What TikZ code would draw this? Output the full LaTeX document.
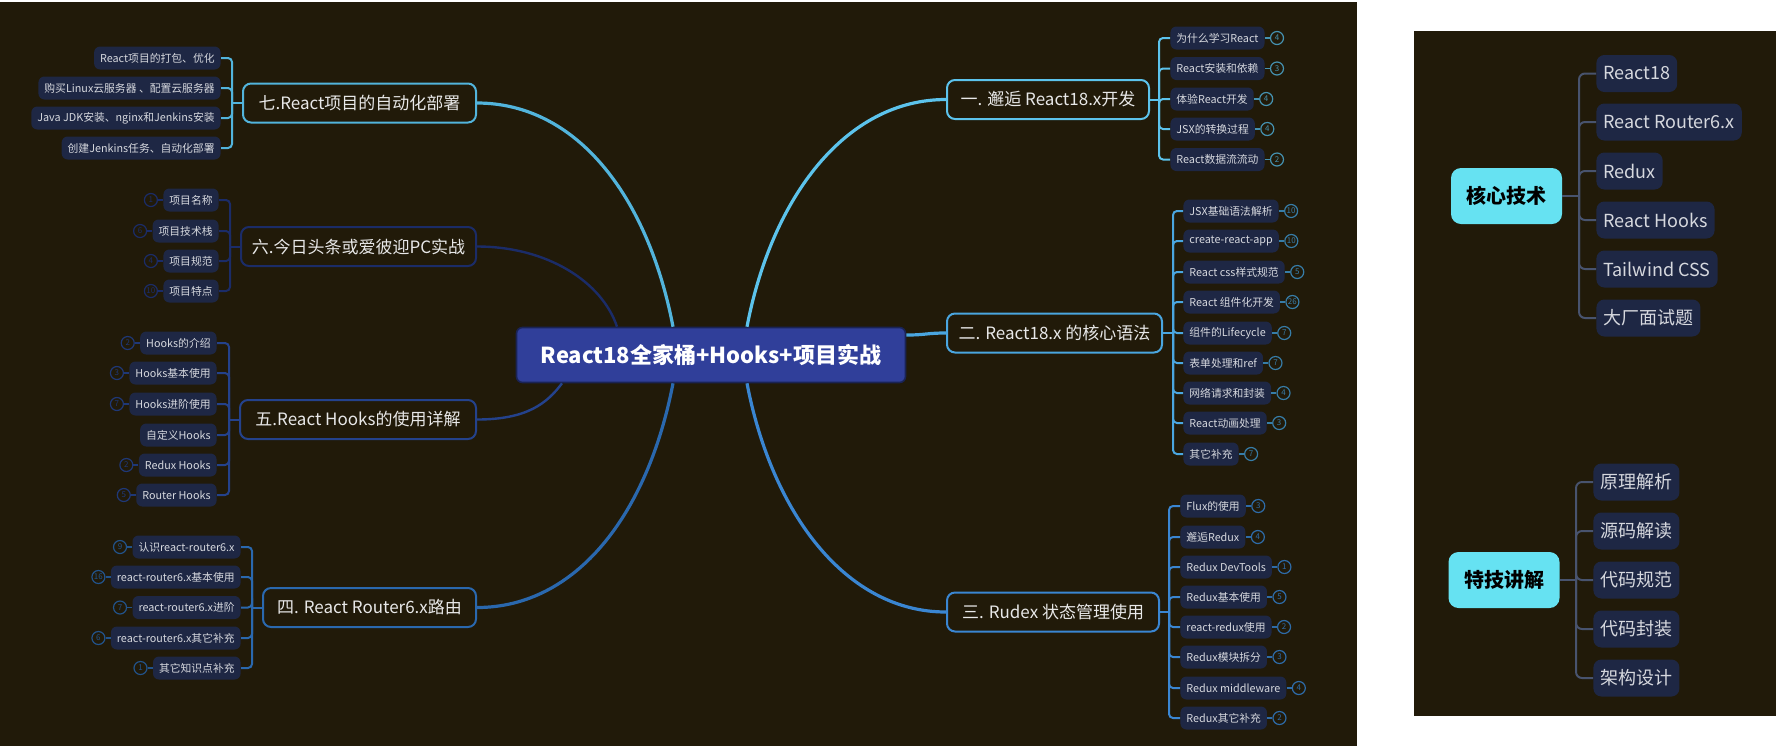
\documentclass[tikz,border=0pt]{standalone}
\usepackage{fontspec}
\setmainfont{Noto Sans CJK SC}
\usepackage{tikz}
\usetikzlibrary{positioning}
\definecolor{MapBg}{HTML}{211A09}
\definecolor{MapRoot}{HTML}{303F9A}
\definecolor{MapLeaf}{HTML}{1E2744}
\definecolor{MapLeafText}{HTML}{D6D8DE}
\definecolor{MapTopicText}{HTML}{E8E8E8}
\definecolor{BrOne}{HTML}{5CC3EC}
\definecolor{BrTwo}{HTML}{4AA6E0}
\definecolor{BrThree}{HTML}{3A86D2}
\definecolor{BrFour}{HTML}{2A68AE}
\definecolor{BrFive}{HTML}{24428C}
\definecolor{BrSix}{HTML}{1B2C68}
\definecolor{BrSeven}{HTML}{52B4DC}
\definecolor{CoreCyan}{HTML}{66E2F2}
\definecolor{SideLine}{HTML}{48536E}
\tikzset{
  rootbox/.style={draw=MapRoot!55!black,line width=0.8pt,fill=MapRoot,rounded corners=3pt,minimum width=194.5pt,minimum height=27.5pt,text=white,font=\fontsize{11}{13}\selectfont\bfseries},
  topicbox/.style={draw=#1,line width=1pt,fill=MapBg,rounded corners=4pt,minimum height=19.5pt,text=MapTopicText,font=\fontsize{8.5}{10}\selectfont},
  leafbox/.style={fill=MapLeaf,rounded corners=3pt,minimum height=11.5pt,inner xsep=3pt,inner ysep=0pt,text=MapLeafText,font=\fontsize{5.4}{6.5}\selectfont},
  countmark/.style={circle,draw=#1,line width=0.6pt,text=#1,inner sep=0pt,minimum size=6.5pt,font=\fontsize{4}{4.5}\selectfont},
  branch/.style={draw=#1,line width=1pt,rounded corners=2pt},
  marklink/.style={draw=#1,line width=0.6pt},
  mainlink/.style={draw=#1,line width=1.6pt},
  corebox/.style={fill=CoreCyan,rounded corners=5pt,minimum width=55.5pt,minimum height=28pt,text=black,font=\fontsize{10}{12}\selectfont\bfseries},
  sidebox/.style={fill=MapLeaf,rounded corners=4pt,minimum height=18.5pt,inner xsep=3.5pt,inner ysep=0pt,text=MapLeafText,font=\fontsize{9}{11}\selectfont},
  sidelink/.style={draw=SideLine,line width=1pt,rounded corners=3pt}
}
\begin{document}
\begin{tikzpicture}[x=0.5pt,y=-0.5pt]
\useasboundingbox (0,0) rectangle (1776,746);
\fill[white] (0,0) rectangle (1776,746);
\fill[MapBg] (0,2) rectangle (1357,746);
\fill[MapBg] (1414,31) rectangle (1776,716);

\node[rootbox] (root) at (711,355) {React18全家桶+Hooks+项目实战};

\node[topicbox=BrOne,minimum width=101pt] (t1) at (1048,99.5) {一. 邂逅 React18.x开发};
\node[topicbox=BrTwo,minimum width=107.5pt] (t2) at (1054.5,333) {二. React18.x 的核心语法};
\node[topicbox=BrThree,minimum width=106pt] (t3) at (1053,612) {三. Rudex 状态管理使用};
\node[topicbox=BrFour,minimum width=106.5pt] (t4) at (369.5,607.5) {四. React Router6.x路由};
\node[topicbox=BrFive,minimum width=118pt] (t5) at (358,419.5) {五.React Hooks的使用详解};
\node[topicbox=BrSix,minimum width=117.5pt] (t6) at (358.5,246.5) {六.今日头条或爱彼迎PC实战};
\node[topicbox=BrSeven,minimum width=116.5pt] (t7) at (359.5,103) {七.React项目的自动化部署};

\draw[mainlink=BrOne] (t1.west) .. controls +(-100,0) and +(25,-130) .. ([xshift=18pt]root.north);
\draw[mainlink=BrTwo] ([yshift=10pt]root.east) .. controls +(20,0) and +(-20,0) .. (t2.west);
\draw[mainlink=BrThree] (t3.west) .. controls +(-100,0) and +(25,130) .. ([xshift=18pt]root.south);
\draw[mainlink=BrFour] (t4.east) .. controls +(100,0) and +(-25,130) .. ([xshift=-19pt]root.south);
\draw[mainlink=BrFive,line width=1.2pt] (t5.east) .. controls +(50,0) and +(-15,20) .. ([xshift=-74.5pt]root.south);
\draw[mainlink=BrSix,line width=1.2pt] (t6.east) .. controls +(70,0) and +(-15,-45) .. ([xshift=-47pt]root.north);
\draw[mainlink=BrSeven] (t7.east) .. controls +(100,0) and +(-25,-130) .. ([xshift=-19pt]root.north);

\node[leafbox,anchor=west] (a1) at (1170,38) {为什么学习React};
\node[leafbox,anchor=west] (a2) at (1170,68.5) {React安装和依赖};
\node[leafbox,anchor=west] (a3) at (1170,99) {体验React开发};
\node[leafbox,anchor=west] (a4) at (1170,129) {JSX的转换过程};
\node[leafbox,anchor=west] (a5) at (1170,159.5) {React数据流流动};
\node[countmark=BrOne!75!black,right=2.5pt of a1] (a1n) {4};
\node[countmark=BrOne!75!black,right=2.5pt of a2] (a2n) {3};
\node[countmark=BrOne!75!black,right=2.5pt of a3] (a3n) {4};
\node[countmark=BrOne!75!black,right=2.5pt of a4] (a4n) {4};
\node[countmark=BrOne!75!black,right=2.5pt of a5] (a5n) {2};
\coordinate (s1) at (1159,99.5);
\draw[branch=BrOne] (t1.east) -- (s1);
\draw[branch=BrOne] (s1) |- (a1.west);
\draw[branch=BrOne] (s1) |- (a2.west);
\draw[branch=BrOne] (s1) |- (a3.west);
\draw[branch=BrOne] (s1) |- (a4.west);
\draw[branch=BrOne] (s1) |- (a5.west);
\draw[marklink=BrOne!75!black] (a1) -- (a1n);
\draw[marklink=BrOne!75!black] (a2) -- (a2n);
\draw[marklink=BrOne!75!black] (a3) -- (a3n);
\draw[marklink=BrOne!75!black] (a4) -- (a4n);
\draw[marklink=BrOne!75!black] (a5) -- (a5n);

\node[leafbox,anchor=west] (b1) at (1183,211) {JSX基础语法解析};
\node[leafbox,anchor=west] (b2) at (1183,241) {create-react-app};
\node[leafbox,anchor=west] (b3) at (1183,272) {React css样式规范};
\node[leafbox,anchor=west] (b4) at (1183,302) {React 组件化开发};
\node[leafbox,anchor=west] (b5) at (1183,333) {组件的Lifecycle};
\node[leafbox,anchor=west] (b6) at (1183,363) {表单处理和ref};
\node[leafbox,anchor=west] (b7) at (1183,393) {网络请求和封装};
\node[leafbox,anchor=west] (b8) at (1183,423) {React动画处理};
\node[leafbox,anchor=west] (b9) at (1183,454) {其它补充};
\node[countmark=BrTwo!75!black,right=2.5pt of b1] (b1n) {10};
\node[countmark=BrTwo!75!black,right=2.5pt of b2] (b2n) {10};
\node[countmark=BrTwo!75!black,right=2.5pt of b3] (b3n) {5};
\node[countmark=BrTwo!75!black,right=2.5pt of b4] (b4n) {26};
\node[countmark=BrTwo!75!black,right=2.5pt of b5] (b5n) {7};
\node[countmark=BrTwo!75!black,right=2.5pt of b6] (b6n) {7};
\node[countmark=BrTwo!75!black,right=2.5pt of b7] (b7n) {4};
\node[countmark=BrTwo!75!black,right=2.5pt of b8] (b8n) {3};
\node[countmark=BrTwo!75!black,right=2.5pt of b9] (b9n) {7};
\coordinate (s2) at (1173,333);
\draw[branch=BrTwo] (t2.east) -- (s2);
\draw[branch=BrTwo] (s2) |- (b1.west);
\draw[branch=BrTwo] (s2) |- (b2.west);
\draw[branch=BrTwo] (s2) |- (b3.west);
\draw[branch=BrTwo] (s2) |- (b4.west);
\draw[branch=BrTwo] (s2) |- (b5.west);
\draw[branch=BrTwo] (s2) |- (b6.west);
\draw[branch=BrTwo] (s2) |- (b7.west);
\draw[branch=BrTwo] (s2) |- (b8.west);
\draw[branch=BrTwo] (s2) |- (b9.west);
\draw[marklink=BrTwo!75!black] (b1) -- (b1n);
\draw[marklink=BrTwo!75!black] (b2) -- (b2n);
\draw[marklink=BrTwo!75!black] (b3) -- (b3n);
\draw[marklink=BrTwo!75!black] (b4) -- (b4n);
\draw[marklink=BrTwo!75!black] (b5) -- (b5n);
\draw[marklink=BrTwo!75!black] (b6) -- (b6n);
\draw[marklink=BrTwo!75!black] (b7) -- (b7n);
\draw[marklink=BrTwo!75!black] (b8) -- (b8n);
\draw[marklink=BrTwo!75!black] (b9) -- (b9n);

\node[leafbox,anchor=west] (c1) at (1180,506) {Flux的使用};
\node[leafbox,anchor=west] (c2) at (1180,537) {邂逅Redux};
\node[leafbox,anchor=west] (c3) at (1180,567) {Redux DevTools};
\node[leafbox,anchor=west] (c4) at (1180,597) {Redux基本使用};
\node[leafbox,anchor=west] (c5) at (1180,627) {react-redux使用};
\node[leafbox,anchor=west] (c6) at (1180,657) {Redux模块拆分};
\node[leafbox,anchor=west] (c7) at (1180,688) {Redux middleware};
\node[leafbox,anchor=west] (c8) at (1180,718) {Redux其它补充};
\node[countmark=BrThree!80!black,right=2.5pt of c1] (c1n) {3};
\node[countmark=BrThree!80!black,right=2.5pt of c2] (c2n) {4};
\node[countmark=BrThree!80!black,right=2.5pt of c3] (c3n) {1};
\node[countmark=BrThree!80!black,right=2.5pt of c4] (c4n) {5};
\node[countmark=BrThree!80!black,right=2.5pt of c5] (c5n) {2};
\node[countmark=BrThree!80!black,right=2.5pt of c6] (c6n) {3};
\node[countmark=BrThree!80!black,right=2.5pt of c7] (c7n) {4};
\node[countmark=BrThree!80!black,right=2.5pt of c8] (c8n) {2};
\coordinate (s3) at (1169,612);
\draw[branch=BrThree] (t3.east) -- (s3);
\draw[branch=BrThree] (s3) |- (c1.west);
\draw[branch=BrThree] (s3) |- (c2.west);
\draw[branch=BrThree] (s3) |- (c3.west);
\draw[branch=BrThree] (s3) |- (c4.west);
\draw[branch=BrThree] (s3) |- (c5.west);
\draw[branch=BrThree] (s3) |- (c6.west);
\draw[branch=BrThree] (s3) |- (c7.west);
\draw[branch=BrThree] (s3) |- (c8.west);
\draw[marklink=BrThree!80!black] (c1) -- (c1n);
\draw[marklink=BrThree!80!black] (c2) -- (c2n);
\draw[marklink=BrThree!80!black] (c3) -- (c3n);
\draw[marklink=BrThree!80!black] (c4) -- (c4n);
\draw[marklink=BrThree!80!black] (c5) -- (c5n);
\draw[marklink=BrThree!80!black] (c6) -- (c6n);
\draw[marklink=BrThree!80!black] (c7) -- (c7n);
\draw[marklink=BrThree!80!black] (c8) -- (c8n);

\node[leafbox,anchor=east] (d1) at (241,547) {认识react-router6.x};
\node[leafbox,anchor=east] (d2) at (241,577) {react-router6.x基本使用};
\node[leafbox,anchor=east] (d3) at (241,607.5) {react-router6.x进阶};
\node[leafbox,anchor=east] (d4) at (241,638) {react-router6.x其它补充};
\node[leafbox,anchor=east] (d5) at (241,668) {其它知识点补充};
\node[countmark=BrFour!80!black,left=2.5pt of d1] (d1n) {9};
\node[countmark=BrFour!80!black,left=2.5pt of d2] (d2n) {16};
\node[countmark=BrFour!80!black,left=2.5pt of d3] (d3n) {7};
\node[countmark=BrFour!80!black,left=2.5pt of d4] (d4n) {6};
\node[countmark=BrFour!80!black,left=2.5pt of d5] (d5n) {1};
\coordinate (s4) at (252,607.5);
\draw[branch=BrFour] (t4.west) -- (s4);
\draw[branch=BrFour] (s4) |- (d1.east);
\draw[branch=BrFour] (s4) |- (d2.east);
\draw[branch=BrFour] (s4) |- (d3.east);
\draw[branch=BrFour] (s4) |- (d4.east);
\draw[branch=BrFour] (s4) |- (d5.east);
\draw[marklink=BrFour!80!black] (d1) -- (d1n);
\draw[marklink=BrFour!80!black] (d2) -- (d2n);
\draw[marklink=BrFour!80!black] (d3) -- (d3n);
\draw[marklink=BrFour!80!black] (d4) -- (d4n);
\draw[marklink=BrFour!80!black] (d5) -- (d5n);

\node[leafbox,anchor=east] (e1) at (217,343) {Hooks的介绍};
\node[leafbox,anchor=east] (e2) at (217,373) {Hooks基本使用};
\node[leafbox,anchor=east] (e3) at (217,404) {Hooks进阶使用};
\node[leafbox,anchor=east] (e4) at (217,435) {自定义Hooks};
\node[leafbox,anchor=east] (e5) at (217,465) {Redux Hooks};
\node[leafbox,anchor=east] (e6) at (217,495) {Router Hooks};
\node[countmark=BrFive!85!black,left=2.5pt of e1] (e1n) {2};
\node[countmark=BrFive!85!black,left=2.5pt of e2] (e2n) {3};
\node[countmark=BrFive!85!black,left=2.5pt of e3] (e3n) {7};
\node[countmark=BrFive!85!black,left=2.5pt of e5] (e5n) {2};
\node[countmark=BrFive!85!black,left=2.5pt of e6] (e6n) {5};
\coordinate (s5) at (229,419.5);
\draw[branch=BrFive] (t5.west) -- (s5);
\draw[branch=BrFive] (s5) |- (e1.east);
\draw[branch=BrFive] (s5) |- (e2.east);
\draw[branch=BrFive] (s5) |- (e3.east);
\draw[branch=BrFive] (s5) |- (e4.east);
\draw[branch=BrFive] (s5) |- (e5.east);
\draw[branch=BrFive] (s5) |- (e6.east);
\draw[marklink=BrFive!85!black] (e1) -- (e1n);
\draw[marklink=BrFive!85!black] (e2) -- (e2n);
\draw[marklink=BrFive!85!black] (e3) -- (e3n);
\draw[marklink=BrFive!85!black] (e5) -- (e5n);
\draw[marklink=BrFive!85!black] (e6) -- (e6n);

\node[leafbox,anchor=east] (f1) at (219,200) {项目名称};
\node[leafbox,anchor=east] (f2) at (219,231) {项目技术栈};
\node[leafbox,anchor=east] (f3) at (219,261) {项目规范};
\node[leafbox,anchor=east] (f4) at (219,291) {项目特点};
\node[countmark=BrSix,left=2.5pt of f1] (f1n) {1};
\node[countmark=BrSix,left=2.5pt of f2] (f2n) {6};
\node[countmark=BrSix,left=2.5pt of f3] (f3n) {4};
\node[countmark=BrSix,left=2.5pt of f4] (f4n) {10};
\coordinate (s6) at (230,246.5);
\draw[branch=BrSix] (t6.west) -- (s6);
\draw[branch=BrSix] (s6) |- (f1.east);
\draw[branch=BrSix] (s6) |- (f2.east);
\draw[branch=BrSix] (s6) |- (f3.east);
\draw[branch=BrSix] (s6) |- (f4.east);
\draw[marklink=BrSix] (f1) -- (f1n);
\draw[marklink=BrSix] (f2) -- (f2n);
\draw[marklink=BrSix] (f3) -- (f3n);
\draw[marklink=BrSix] (f4) -- (f4n);

\node[leafbox,anchor=east] (g1) at (221,58) {React项目的打包、优化};
\node[leafbox,anchor=east] (g2) at (221,88) {购买Linux云服务器 、配置云服务器};
\node[leafbox,anchor=east] (g3) at (221,118) {Java JDK安装、nginx和Jenkins安装};
\node[leafbox,anchor=east] (g4) at (221,148) {创建Jenkins任务、自动化部署};
\coordinate (s7) at (232,103);
\draw[branch=BrSeven] (t7.west) -- (s7);
\draw[branch=BrSeven] (s7) |- (g1.east);
\draw[branch=BrSeven] (s7) |- (g2.east);
\draw[branch=BrSeven] (s7) |- (g3.east);
\draw[branch=BrSeven] (s7) |- (g4.east);

\node[corebox] (core) at (1506.5,196) {核心技术};
\node[sidebox,anchor=west] (k1) at (1596,73.5) {React18};
\node[sidebox,anchor=west] (k2) at (1596,122) {React Router6.x};
\node[sidebox,anchor=west] (k3) at (1596,171) {Redux};
\node[sidebox,anchor=west] (k4) at (1596,220) {React Hooks};
\node[sidebox,anchor=west] (k5) at (1596,269) {Tailwind CSS};
\node[sidebox,anchor=west] (k6) at (1596,318) {大厂面试题};
\coordinate (ks) at (1579,196);
\draw[sidelink] (core.east) -- (ks);
\draw[sidelink] (ks) |- (k1.west);
\draw[sidelink] (ks) |- (k2.west);
\draw[sidelink] (ks) |- (k3.west);
\draw[sidelink] (ks) |- (k4.west);
\draw[sidelink] (ks) |- (k5.west);
\draw[sidelink] (ks) |- (k6.west);

\node[corebox] (trick) at (1504,580) {特技讲解};
\node[sidebox,anchor=west] (m1) at (1593,482) {原理解析};
\node[sidebox,anchor=west] (m2) at (1593,531) {源码解读};
\node[sidebox,anchor=west] (m3) at (1593,580) {代码规范};
\node[sidebox,anchor=west] (m4) at (1593,629) {代码封装};
\node[sidebox,anchor=west] (m5) at (1593,678) {架构设计};
\coordinate (ms) at (1576,580);
\draw[sidelink] (trick.east) -- (ms);
\draw[sidelink] (ms) |- (m1.west);
\draw[sidelink] (ms) |- (m2.west);
\draw[sidelink] (ms) |- (m3.west);
\draw[sidelink] (ms) |- (m4.west);
\draw[sidelink] (ms) |- (m5.west);
\end{tikzpicture}
\end{document}
